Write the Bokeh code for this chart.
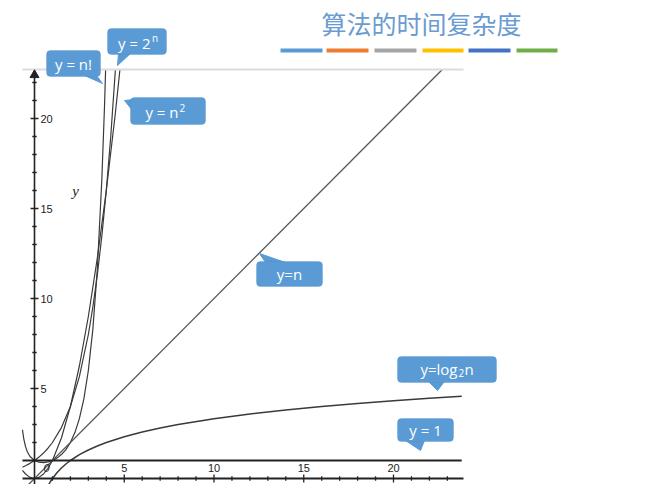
from bokeh.plotting import figure
from bokeh.models import Label, BoxAnnotation, Range1d
from bokeh.embed import file_html
from bokeh.resources import INLINE

# ---------------- data ----------------
title_text = "算法的时间复杂度"
bar_colors = ["#5b9bd5", "#ed7d31", "#a5a5a5", "#ffc000", "#4472c4", "#70ad47"]

x_ticks = list(range(0, 24))
y_ticks = list(range(0, 23))
x_tick_labels = ["5", "10", "15", "20"]
y_tick_labels = ["5", "10", "15", "20"]
label_vals = [5, 10, 15, 20]

const_x = [-0.67, 23.8]
const_y = [1, 1]

lin_x = [-0.67, 22.72]
lin_y = [-0.67, 22.72]

log_x = [0.42, 0.5, 0.6, 0.7, 0.8, 0.9, 1, 1.25, 1.5, 1.75, 2, 2.5, 3, 3.5, 4,
         5, 6, 7, 8, 10, 12, 14, 16, 18, 20, 22, 23.8]
log_y = [-1.252, -1, -0.737, -0.515, -0.322, -0.152, 0, 0.322, 0.585, 0.807, 1,
         1.322, 1.585, 1.807, 2, 2.322, 2.585, 2.807, 3, 3.322, 3.585, 3.807, 4,
         4.170, 4.322, 4.459, 4.573]

sq_x = [-0.67, -0.5, -0.25, 0, 0.25, 0.5, 0.75, 1, 1.5, 2, 2.5, 3, 3.5, 4, 4.5, 5]
sq_y = [0.449, 0.25, 0.0625, 0, 0.0625, 0.25, 0.5625, 1, 2.25, 4, 6.25, 9, 12.25,
        16, 20.25, 25]

exp_x = [-0.67, -0.5, -0.25, 0, 0.25, 0.5, 0.75, 1, 1.5, 2, 2.5, 3, 3.25, 3.5,
         3.75, 4, 4.25, 4.5, 4.6]
exp_y = [0.628, 0.707, 0.841, 1, 1.189, 1.414, 1.682, 2, 2.828, 4, 5.657, 8, 9.514,
         11.314, 13.454, 16, 19.027, 22.627, 24.251]

fact_x = [-0.67, -0.6, -0.5, -0.4, -0.25, 0, 0.25, 0.5, 0.75, 1, 1.25, 1.5, 1.75,
          2, 2.25, 2.5, 2.75, 3, 3.25, 3.5, 3.75, 3.9, 4]
fact_y = [2.707, 2.218, 1.772, 1.489, 1.225, 1, 0.906, 0.886, 0.919, 1, 1.133,
          1.329, 1.608, 2, 2.549, 3.323, 4.423, 6, 8.285, 11.632, 16.586, 20.667, 24]

# callout texts, split into runs (normal / superscript / subscript)
callout_runs = [
    [("y = n!", "n")],
    [("y = 2", "n"), ("n", "sup")],
    [("y = n", "n"), ("2", "sup")],
    [("y=n", "n")],
    [("y=log", "n"), ("2", "sub"), ("n", "n")],
    [("y = 1", "n")],
]

# ---------------- layout helpers (image pixel -> data) ----------------
W, H = 644, 484
SX, SY = 17.95, 18.0
OX, OY = 34, 478          # image pixel of the origin


def dx(px):
    return (px - OX) / SX


def dy(py):
    return (OY - py) / SY


TOP = dy(69)
X_LEFT = dx(22)
X_RIGHT = dx(463)

p = figure(width=W, height=H, output_backend="svg", toolbar_location=None,
           x_range=Range1d(dx(0), dx(W)), y_range=Range1d(dy(H), dy(0)),
           x_axis_location=None, y_axis_location=None, min_border=0,
           outline_line_color=None, background_fill_color="white",
           border_fill_color="white")
p.xgrid.grid_line_color = None
p.ygrid.grid_line_color = None

CURVE = "#3a3a3a"
AX = "#222222"

# curves
p.line(fact_x, fact_y, line_color=CURVE, line_width=1.2)
p.line(exp_x, exp_y, line_color=CURVE, line_width=1.2)
p.line(sq_x, sq_y, line_color=CURVE, line_width=1.2)
p.line(lin_x, lin_y, line_color="#555555", line_width=1.3)
p.line(log_x, log_y, line_color=CURVE, line_width=1.5)
p.line(const_x, const_y, line_color=AX, line_width=1.8)

# mask above the plotting area
p.quad(left=[dx(0)], right=[dx(W)], bottom=[TOP], top=[dy(0)],
       fill_color="white", line_color=None)

# top gray rule
p.line([X_LEFT, X_RIGHT], [TOP, TOP], line_color="#dcdcdc", line_width=2)

# axes
p.line([X_LEFT, X_RIGHT], [0, 0], line_color=AX, line_width=1.8)
p.line([0, 0], [dy(H), dy(76)], line_color=AX, line_width=1.6)
p.scatter([0], [dy(74.5)], marker="triangle", size=9, fill_color=AX, line_color=AX)

tx = 2.2 / SX
ty = 2.2 / SY
minor_x = [t for t in x_ticks if t % 5 != 0]
major_x = [t for t in x_ticks if t % 5 == 0 and t != 0]
p.segment(x0=minor_x, y0=[-ty] * len(minor_x), x1=minor_x, y1=[ty] * len(minor_x),
          line_color=AX, line_width=1.3)
p.segment(x0=major_x, y0=[-1.8 * ty] * len(major_x), x1=major_x,
          y1=[1.8 * ty] * len(major_x), line_color=AX, line_width=1.3)
minor_y = [t for t in y_ticks if t % 5 != 0]
major_y = [t for t in y_ticks if t % 5 == 0 and t != 0]
p.segment(x0=[-tx] * len(minor_y), y0=minor_y, x1=[tx] * len(minor_y), y1=minor_y,
          line_color=AX, line_width=1.3)
p.segment(x0=[-1.8 * tx] * len(major_y), y0=major_y, x1=[1.8 * tx] * len(major_y),
          y1=major_y, line_color=AX, line_width=1.3)

for v, t in zip(label_vals, x_tick_labels):
    p.add_layout(Label(x=v, y=dy(467), text=t, text_align="center",
                       text_baseline="middle", text_font="Liberation Sans",
                       text_font_size="11px", text_color="#222222"))
for v, t in zip(label_vals, y_tick_labels):
    p.add_layout(Label(x=dx(40), y=v, text=t, text_align="left",
                       text_baseline="middle", text_font="Liberation Sans",
                       text_font_size="11px", text_color="#222222"))
p.add_layout(Label(x=dx(46), y=dy(467), text="0", text_align="center",
                   text_baseline="middle", text_font="Liberation Sans",
                   text_font_size="11px", text_color="#222222", text_font_style="italic"))
p.add_layout(Label(x=dx(75), y=dy(190), text="y", text_align="center",
                   text_baseline="middle", text_font="Liberation Serif",
                   text_font_size="15px", text_color="#222222", text_font_style="italic"))

# title and colour bars
p.add_layout(Label(x=dx(421), y=dy(22), text=title_text, text_align="center",
                   text_baseline="middle", text_font="Noto Sans CJK SC",
                   text_font_size="25px", text_color="#6a9bd2"))
bar_l = [280, 326, 374, 422, 468, 516]
bar_r = [322, 368, 416, 463, 510, 557]
p.quad(left=[dx(v) for v in bar_l], right=[dx(v) for v in bar_r],
       bottom=[dy(52)] * 6, top=[dy(48)] * 6, fill_color=bar_colors, line_color=None)

# callouts (image pixel boxes, pointer triangles, run placement)
BLUE = "#5b9bd5"
boxes = [(46, 50, 100, 76), (107, 28, 166, 54), (130, 97, 205, 124),
         (256, 261, 322, 286), (397, 356, 496, 382), (397, 418, 453, 441)]
tails = [[(84, 75), (96, 75), (102, 83)],
         [(118, 53), (130, 53), (117, 65)],
         [(124, 100), (142, 98), (132, 110)],
         [(259, 253), (265, 262), (285, 262)],
         [(428, 381), (444, 381), (437, 390)],
         [(405, 440), (424, 440), (420, 450)]]
# per run: (x offset from box centre, y offset, text_align)
run_pos = [
    [(0, 0, "center")],
    [(13.5, 1, "right"), (15, -4, "left")],
    [(10.5, 1, "right"), (11.5, -3, "left")],
    [(0, 0, "center")],
    [(10.5, -1, "right"), (11.5, 3, "left"), (17.5, -1, "left")],
    [(0, 0, "center")],
]

for (l, t, r, b), tail, runs, poss in zip(boxes, tails, callout_runs, run_pos):
    p.patch([dx(a) for a, _ in tail], [dy(c) for _, c in tail],
            fill_color=BLUE, line_color=BLUE, line_width=1)
    p.add_layout(BoxAnnotation(left=dx(l), right=dx(r), top=dy(t), bottom=dy(b),
                               fill_color=BLUE, fill_alpha=1.0, line_color="#4f8ac4",
                               line_width=1, border_radius=4))
    cx, cy = (l + r) / 2, (t + b) / 2
    for (txt, kind), (ox, oy, al) in zip(runs, poss):
        size = "15px" if kind == "n" else "10px"
        p.add_layout(Label(x=dx(cx + ox), y=dy(cy + oy), text=txt,
                           text_align=al, text_baseline="middle",
                           text_font="Open Sans", text_font_size=size,
                           text_color="white"))

open("out.html", "w").write(file_html(p, INLINE))
